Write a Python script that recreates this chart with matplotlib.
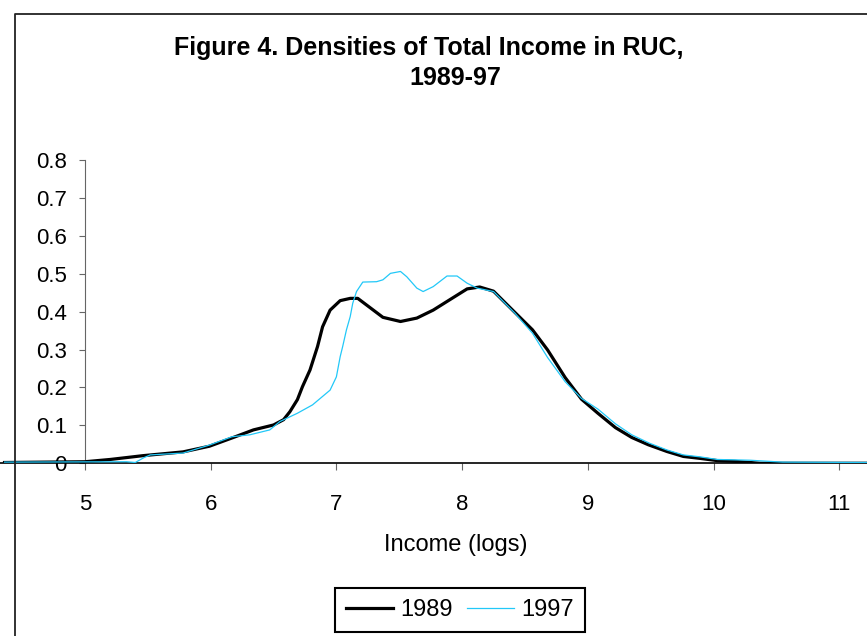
import matplotlib
matplotlib.use('Agg')
import matplotlib.pyplot as plt
from matplotlib.lines import Line2D

plt.rcParams['font.family'] = ['Liberation Sans', 'DejaVu Sans']

# density of log income, 1989
x_1989 = [4.36, 5.00, 5.20, 5.46, 5.78, 5.99, 6.18, 6.34, 6.50, 6.58, 6.63, 6.69,
          6.73, 6.79, 6.85, 6.89, 6.95, 7.03, 7.11, 7.17, 7.27, 7.37, 7.51, 7.64,
          7.77, 7.90, 8.04, 8.14, 8.25, 8.42, 8.56, 8.68, 8.82, 8.95, 9.08, 9.22,
          9.35, 9.48, 9.63, 9.76, 9.89, 10.03, 10.17, 10.37, 11.22]
y_1989 = [0.002, 0.004, 0.010, 0.020, 0.030, 0.045, 0.068, 0.088, 0.101, 0.115, 0.136, 0.168,
          0.202, 0.246, 0.308, 0.360, 0.404, 0.429, 0.435, 0.435, 0.410, 0.385, 0.374, 0.383,
          0.404, 0.431, 0.460, 0.465, 0.454, 0.398, 0.352, 0.299, 0.226, 0.169, 0.132, 0.094,
          0.068, 0.049, 0.031, 0.018, 0.013, 0.007, 0.005, 0.0, 0.0]

# density of log income, 1997
x_1997 = [4.36, 5.33, 5.40, 5.47, 5.52, 5.78, 5.99, 6.17, 6.31, 6.47, 6.55, 6.69,
          6.81, 6.95, 7.00, 7.03, 7.05, 7.08, 7.11, 7.13, 7.16, 7.21, 7.32, 7.37,
          7.43, 7.51, 7.56, 7.64, 7.69, 7.77, 7.88, 7.96, 8.04, 8.12, 8.25, 8.42,
          8.56, 8.68, 8.82, 8.95, 9.08, 9.22, 9.35, 9.49, 9.63, 9.76, 9.89, 10.03,
          10.29, 10.55, 11.22]
y_1997 = [0.003, 0.004, 0.002, 0.015, 0.022, 0.027, 0.048, 0.070, 0.075, 0.088, 0.110, 0.132,
          0.154, 0.193, 0.228, 0.281, 0.308, 0.352, 0.387, 0.422, 0.453, 0.478, 0.479, 0.484,
          0.501, 0.506, 0.492, 0.462, 0.453, 0.466, 0.494, 0.494, 0.475, 0.462, 0.453, 0.396,
          0.343, 0.279, 0.215, 0.171, 0.143, 0.104, 0.075, 0.053, 0.035, 0.022, 0.017, 0.010,
          0.008, 0.003, 0.002]

y_ticks = [0, 0.1, 0.2, 0.3, 0.4, 0.5, 0.6, 0.7, 0.8]
y_labels = ['0', '0.1', '0.2', '0.3', '0.4', '0.5', '0.6', '0.7', '0.8']
x_ticks = [5, 6, 7, 8, 9, 10, 11]

fig = plt.figure(figsize=(8.67, 6.36), dpi=100)

# chart area border (only left and top edges are inside the picture)
bx = 15 / 867
by = 1 - 14 / 636
fig.add_artist(Line2D([bx, bx, 1.0], [0.0, by, by], transform=fig.transFigure,
                      color='#222222', lw=1.3))

ax = fig.add_axes([0, 0.2716, 1, 0.4768])
ax.set_facecolor('none')
ax.plot(x_1989, y_1989, color='black', lw=2.3, label='1989', zorder=3)
ax.plot(x_1997, y_1997, color='#22C8F8', lw=0.9, label='1997', zorder=4)

ax.set_xlim(4.324, 11.221)
ax.set_ylim(0, 0.8)
ax.spines['top'].set_visible(False)
ax.spines['right'].set_visible(False)
ax.spines['left'].set_position(('data', 5))
ax.spines['left'].set_color('#666666')
ax.spines['bottom'].set_color('black')
ax.spines['bottom'].set_linewidth(1.2)

ax.set_yticks(y_ticks)
ax.set_yticklabels(y_labels)
ax.set_xticks(x_ticks)
ax.tick_params(axis='y', direction='out', length=4, color='#666666', pad=9, labelsize=16)
ax.tick_params(axis='x', direction='out', length=5, color='#666666', pad=17, labelsize=16)

fig.text(429 / 867, 1 - 55 / 636, 'Figure 4. Densities of Total Income in RUC,',
         ha='center', va='baseline', fontsize=18, fontweight='bold')
fig.text(455 / 867, 1 - 85 / 636, '1989-97',
         ha='center', va='baseline', fontsize=18, fontweight='bold')
fig.text(456 / 867, 1 - 551 / 636, 'Income (logs)', ha='center', va='baseline', fontsize=17)

leg = fig.legend(loc='center', bbox_to_anchor=(460 / 867, 1 - 610 / 636), ncol=2,
                 fontsize=17, fancybox=False, framealpha=1, edgecolor='black',
                 handlelength=2.0, handletextpad=0.3, columnspacing=0.6,
                 borderpad=0.45)
leg.get_frame().set_linewidth(1.5)

fig.savefig('out.png', dpi=100)
